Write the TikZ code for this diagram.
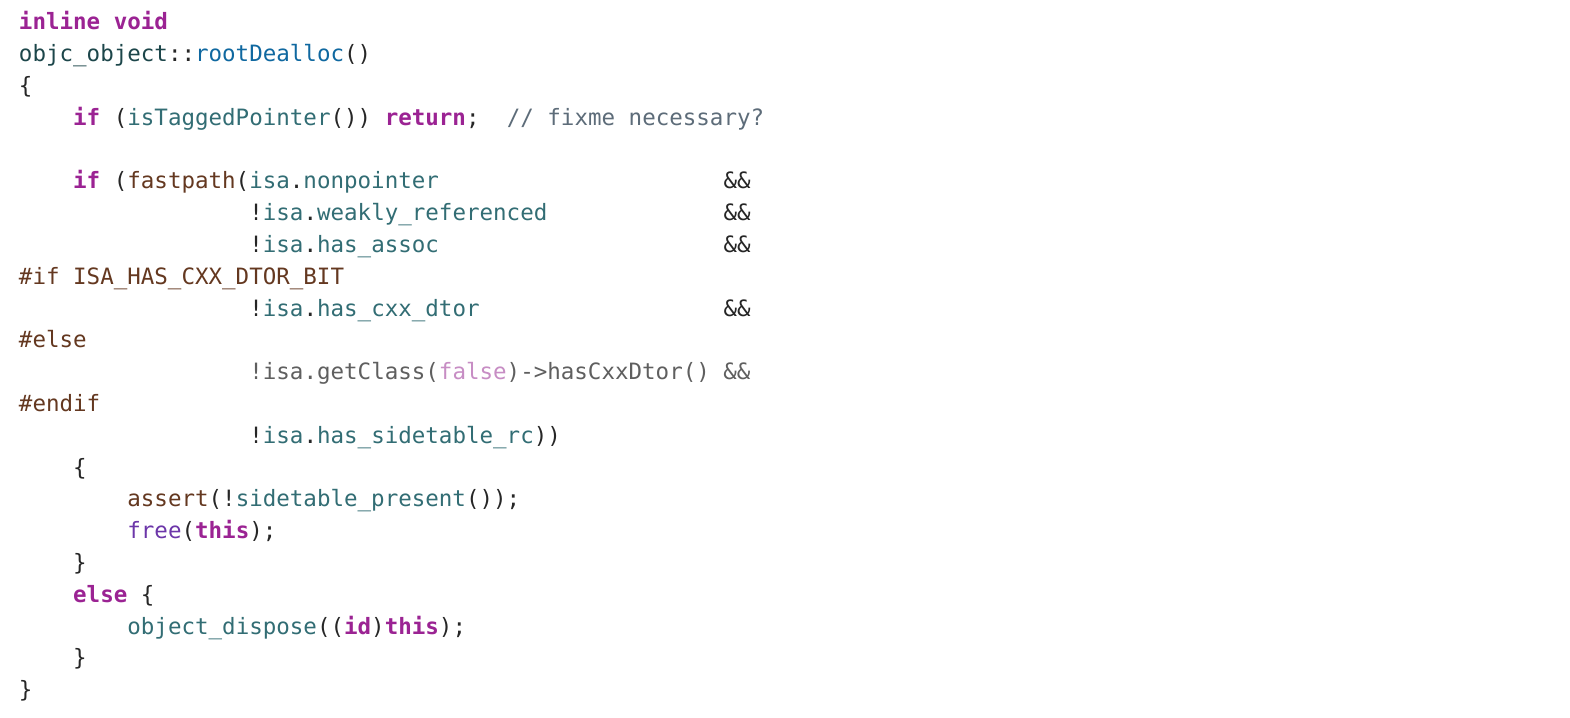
\documentclass[tikz,border=0pt]{standalone}
\usepackage{fontspec}
\setmonofont{DejaVu Sans Mono}
\usetikzlibrary{positioning}

\definecolor{kwpurple}{HTML}{9B2393}
\definecolor{plaindark}{HTML}{262626}
\definecolor{clsteal}{HTML}{1C464A}
\definecolor{declblue}{HTML}{0F68A0}
\definecolor{prjteal}{HTML}{326D74}
\definecolor{ppbrown}{HTML}{643820}
\definecolor{cmtgray}{HTML}{5D6C79}
\definecolor{sysviolet}{HTML}{6C36A9}
\definecolor{inactgray}{HTML}{5F5F5F}
\definecolor{inactpink}{HTML}{C78DC4}

\newcommand{\codefont}{\ttfamily\fontsize{11.25pt}{15.9pt}\selectfont\color{plaindark}}
\newcommand{\kwd}[1]{{\bfseries\color{kwpurple}#1}}
\newcommand{\cls}[1]{{\color{clsteal}#1}}
\newcommand{\dcl}[1]{{\color{declblue}#1}}
\newcommand{\prj}[1]{{\color{prjteal}#1}}
\newcommand{\ppc}[1]{{\color{ppbrown}#1}}
\newcommand{\cmt}[1]{{\color{cmtgray}#1}}
\newcommand{\sysfn}[1]{{\color{sysviolet}#1}}

\begin{document}
\begin{tikzpicture}[x=6.775pt,y=-15.9pt,
  codeline/.style={anchor=base west,inner sep=0pt,outer sep=0pt,font=\codefont}]
  %Page and margins
  \path[fill=white] (-1.402,-0.943) rectangle (114.465,21.636);
  %Function head
  \node[codeline] (ln0) at (0,0) {\kwd{inline} \kwd{void}};
  \node[codeline] (ln1) at (0,1) {\cls{objc\_object}::\dcl{rootDealloc}()};
  \node[codeline] (ln2) at (0,2) {\{};
  \node[codeline] (ln3) at (4,3) {\kwd{if} (\prj{isTaggedPointer}()) \kwd{return};};
  \node[codeline] (cmt3) at (36,3) {\cmt{// fixme necessary?}};

  %Fast path condition
  \node[codeline] (ln5) at (4,5) {\kwd{if} (\ppc{fastpath}(\prj{isa}.\prj{nonpointer}};
  \node[codeline] (ln6) at (17,6) {!\prj{isa}.\prj{weakly\_referenced}};
  \node[codeline] (ln7) at (17,7) {!\prj{isa}.\prj{has\_assoc}};
  \node[codeline] (ln8) at (0,8) {\ppc{\#if ISA\_HAS\_CXX\_DTOR\_BIT}};
  \node[codeline] (ln9) at (17,9) {!\prj{isa}.\prj{has\_cxx\_dtor}};
  \node[codeline] (ln10) at (0,10) {\ppc{\#else}};
  \node[codeline] (ln11) at (17,11) {\color{inactgray}!isa.getClass({\color{inactpink}false})->hasCxxDtor() \&\&};
  \node[codeline] (ln12) at (0,12) {\ppc{\#endif}};
  \node[codeline] (ln13) at (17,13) {!\prj{isa}.\prj{has\_sidetable\_rc}))};
  %And operators
  \node[codeline] (and5) at (52,5) {\&\&};
  \node[codeline] (and6) at (52,6) {\&\&};
  \node[codeline] (and7) at (52,7) {\&\&};
  \node[codeline] (and9) at (52,9) {\&\&};

  %Branches
  \node[codeline] (ln14) at (4,14) {\{};
  \node[codeline] (ln15) at (8,15) {\ppc{assert}(!\prj{sidetable\_present}());};
  \node[codeline] (ln16) at (8,16) {\sysfn{free}(\kwd{this});};
  \node[codeline] (ln17) at (4,17) {\}};
  \node[codeline] (ln18) at (4,18) {\kwd{else} \{};
  \node[codeline] (ln19) at (8,19) {\prj{object\_dispose}((\kwd{id})\kwd{this});};
  \node[codeline] (ln20) at (4,20) {\}};
  \node[codeline] (ln21) at (0,21) {\}};
\end{tikzpicture}
\end{document}
